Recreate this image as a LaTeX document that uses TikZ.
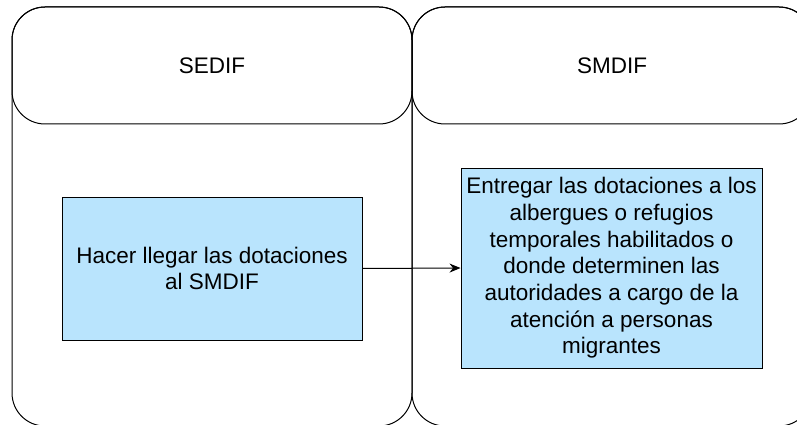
\documentclass[tikz,border=0pt]{standalone}
\usepackage{fontspec}
\setmainfont{Liberation Sans}
\usetikzlibrary{arrows.meta}
\definecolor{boxfill}{RGB}{185,228,253}
\tikzset{
  lanebody/.style={draw=black, line width=1pt, rounded corners=33pt, minimum width=400pt, minimum height=419pt, inner sep=0pt},
  lanehead/.style={draw=black, line width=1pt, rounded corners=33pt, minimum width=400pt, minimum height=117pt, inner sep=0pt, font=\fontsize{22.5}{27}\selectfont},
  actbox/.style={draw=black, line width=1pt, fill=boxfill, inner sep=0pt, align=center, font=\fontsize{22.5}{26.7}\selectfont},
  conn/.style={draw=black, line width=1pt, -{Stealth[length=11pt,width=9pt]}}
}
\begin{document}
\begin{tikzpicture}[x=1pt,y=-1pt]
\useasboundingbox (0,0) rectangle (797,425);
\clip (0,0) rectangle (797,425);
\node[lanebody] (laneA) at (212,216.5) {};
\node[lanebody] (laneB) at (612,216.5) {};
\node[lanehead] (headA) at (212,65.5) {SEDIF};
\node[lanehead] (headB) at (612,65.5) {SMDIF};
\node[actbox, minimum width=300pt, minimum height=143pt] (boxA) at (212,268.5) {Hacer llegar las dotaciones\\al SMDIF};
\node[actbox, minimum width=301pt, minimum height=200pt] (boxB) at (611.5,268) {Entregar las dotaciones a los\\albergues o refugios\\temporales habilitados o\\donde determinen las\\autoridades a cargo de la\\atención a personas\\migrantes};
\draw[conn] (boxA.east) -- (boxB.west);
\end{tikzpicture}
\end{document}
